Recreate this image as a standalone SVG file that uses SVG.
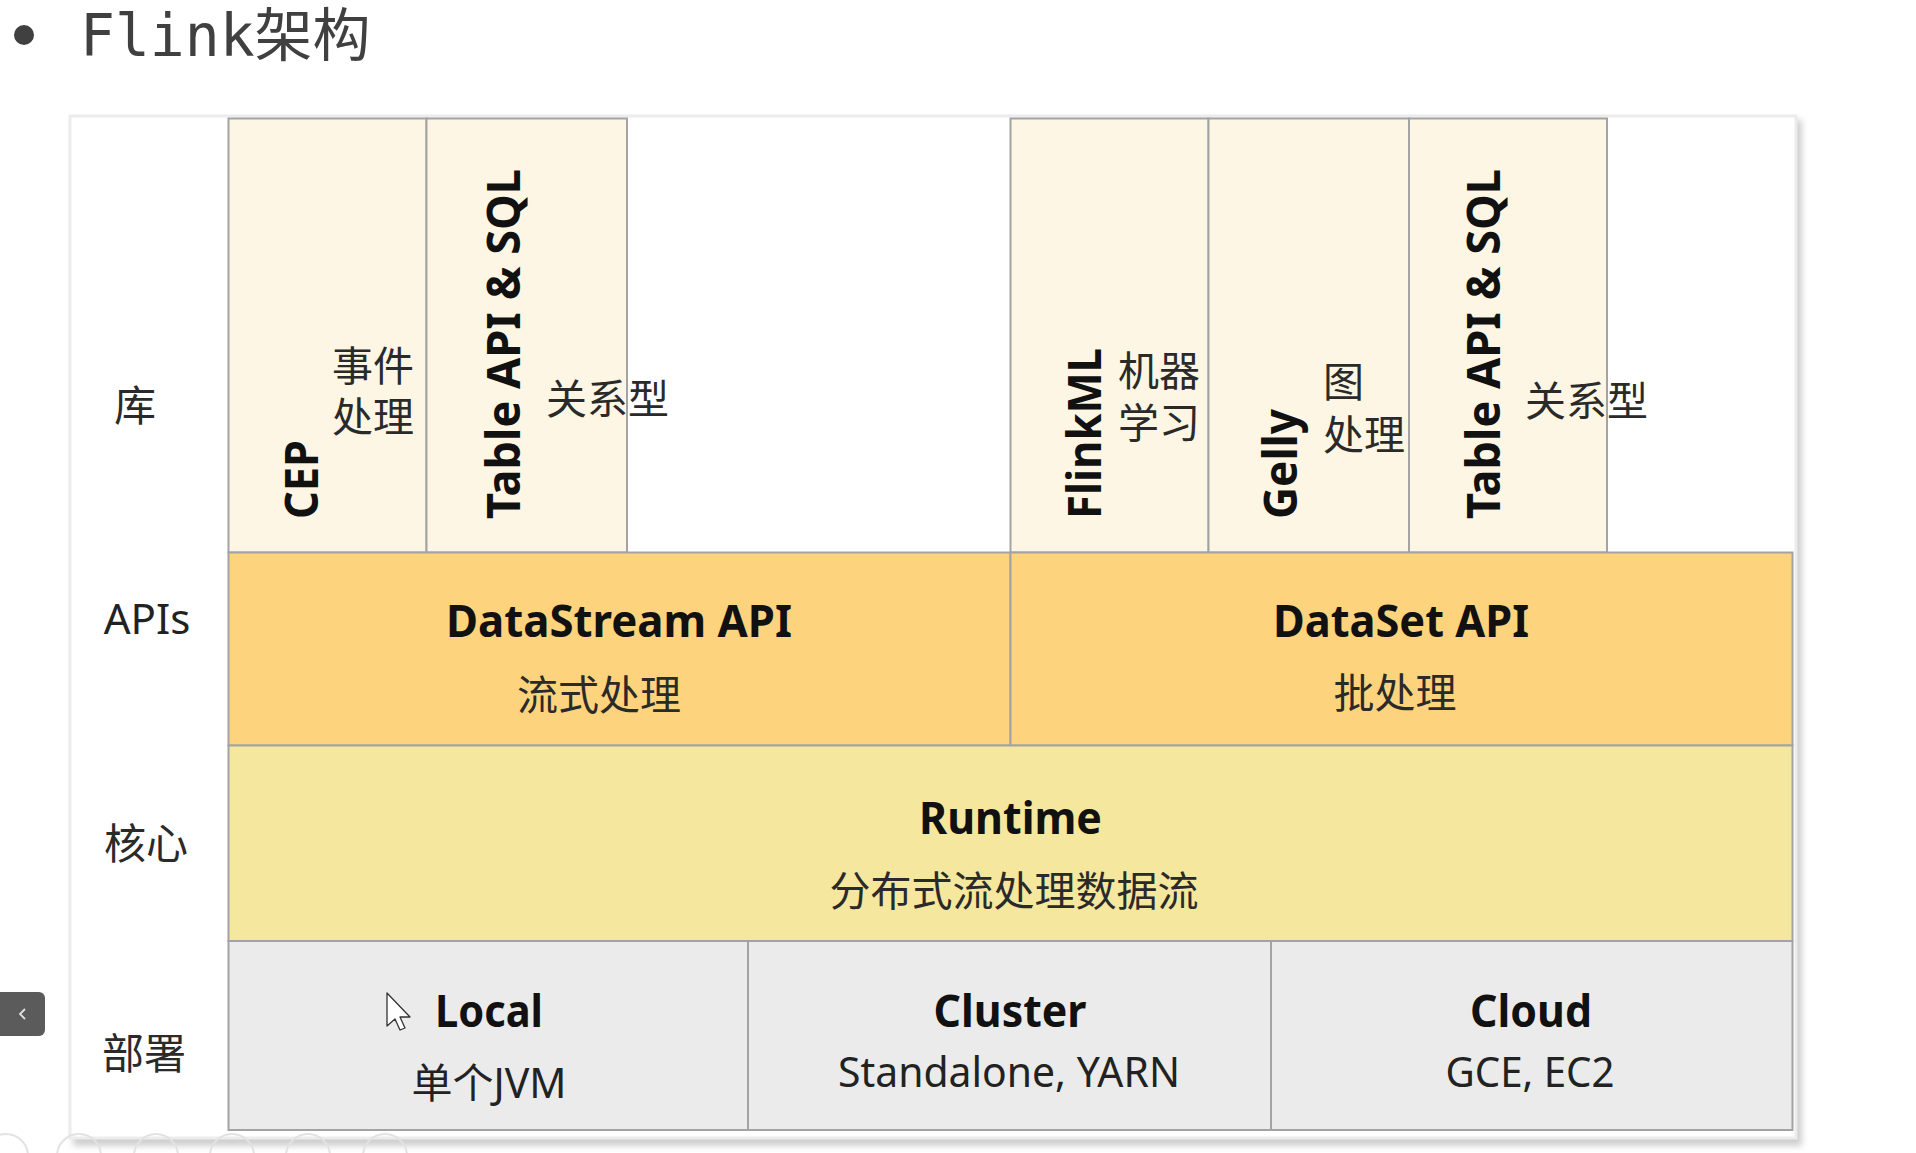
<svg xmlns="http://www.w3.org/2000/svg" width="1916" height="1153" viewBox="0 0 1916 1153">
  <defs>
    <filter id="shadow" x="-5%" y="-5%" width="110%" height="110%">
      <feGaussianBlur stdDeviation="3"/>
    </filter>
    <style>
      .lib { fill: #fdf6e4; stroke: #a3a3a3; stroke-width: 2; }
      .api { fill: #fdd37d; stroke: #a3a3a3; stroke-width: 2; }
      .core { fill: #f5e79e; stroke: #a3a3a3; stroke-width: 2; }
      .dep { fill: #ebebeb; stroke: #a3a3a3; stroke-width: 2; }
      .bold { font-family: "Noto Sans", "Liberation Sans", sans-serif; font-weight: bold; fill: #111; }
      .reg { font-family: "Noto Sans", "Noto Sans CJK SC", sans-serif; fill: #222; }
      .cjk { font-family: "Noto Sans CJK SC", "Noto Sans", sans-serif; fill: #2a2a2a; }
      .rot { font-size: 46px; }
      .h { font-size: 45px; text-anchor: middle; }
      .sub { font-size: 41px; text-anchor: middle; }
      .lbl { font-size: 41px; }
      .row { font-size: 42px; text-anchor: middle; }
    </style>
  </defs>

  <rect width="1916" height="1153" fill="#ffffff"/>

  <!-- title -->
  <g id="title">
    <circle cx="24" cy="35" r="10" fill="#404040"/>
    <text x="80" y="56" font-family="DejaVu Sans Mono, Noto Sans CJK SC, monospace" font-size="58" fill="#404040">Flink架构</text>
  </g>

  <!-- panel -->
  <g id="panel">
    <rect x="73" y="120" width="1729" height="1026" fill="#cfcfcf" filter="url(#shadow)"/>
    <rect x="70" y="116" width="1726" height="1022" fill="#ffffff" stroke="#ececec" stroke-width="3"/>
  </g>

  <!-- row labels -->
  <g id="row-labels">
    <text class="cjk row" x="135" y="421">库</text>
    <text class="reg row" x="147" y="634">APIs</text>
    <text class="cjk row" x="146" y="859">核心</text>
    <text class="cjk row" x="144" y="1069">部署</text>
  </g>

  <!-- library row -->
  <g id="cep">
    <rect class="lib" x="228.5" y="118.5" width="198" height="434"/>
    <text class="bold rot" transform="translate(318,519) rotate(-90)" textLength="79" lengthAdjust="spacingAndGlyphs">CEP</text>
    <text class="cjk lbl"><tspan x="332" y="381">事件</tspan><tspan x="332" dy="51">处理</tspan></text>
  </g>
  <g id="table-stream">
    <rect class="lib" x="426.5" y="118.5" width="200.5" height="434"/>
    <text class="bold rot" transform="translate(520,519) rotate(-90)" textLength="350" lengthAdjust="spacingAndGlyphs">Table API &amp; SQL</text>
    <text class="cjk lbl" x="546" y="414">关系型</text>
  </g>
  <g id="flinkml">
    <rect class="lib" x="1010.5" y="118.5" width="198" height="434"/>
    <text class="bold rot" transform="translate(1101,519) rotate(-90)" textLength="171" lengthAdjust="spacingAndGlyphs">FlinkML</text>
    <text class="cjk lbl"><tspan x="1118" y="386">机器</tspan><tspan x="1118" dy="52">学习</tspan></text>
  </g>
  <g id="gelly">
    <rect class="lib" x="1208.5" y="118.5" width="200.5" height="434"/>
    <text class="bold rot" transform="translate(1297,519) rotate(-90)" textLength="110" lengthAdjust="spacingAndGlyphs">Gelly</text>
    <text class="cjk lbl"><tspan x="1323" y="397">图</tspan><tspan x="1323" dy="53">处理</tspan></text>
  </g>
  <g id="table-batch">
    <rect class="lib" x="1409" y="118.5" width="198" height="434"/>
    <text class="bold rot" transform="translate(1500,519) rotate(-90)" textLength="350" lengthAdjust="spacingAndGlyphs">Table API &amp; SQL</text>
    <text class="cjk lbl" x="1525" y="416">关系型</text>
  </g>

  <!-- APIs row -->
  <g id="datastream">
    <rect class="api" x="228.5" y="552.5" width="782" height="193"/>
    <text class="bold h" x="619" y="637" textLength="346" lengthAdjust="spacingAndGlyphs">DataStream API</text>
    <text class="cjk sub" x="599" y="710">流式处理</text>
  </g>
  <g id="dataset">
    <rect class="api" x="1010.5" y="552.5" width="782" height="193"/>
    <text class="bold h" x="1401" y="637" textLength="256" lengthAdjust="spacingAndGlyphs">DataSet API</text>
    <text class="cjk sub" x="1395" y="708">批处理</text>
  </g>

  <!-- core row -->
  <g id="runtime">
    <rect class="core" x="228.5" y="745.5" width="1564" height="195.5"/>
    <text class="bold h" x="1010.5" y="834" textLength="183" lengthAdjust="spacingAndGlyphs">Runtime</text>
    <text class="cjk sub" x="1014" y="906">分布式流处理数据流</text>
  </g>

  <!-- deploy row -->
  <g id="local">
    <rect class="dep" x="228.5" y="941" width="519.5" height="189"/>
    <text class="bold h" x="489" y="1027" textLength="108" lengthAdjust="spacingAndGlyphs">Local</text>
    <text class="reg sub" x="489" y="1098">单个JVM</text>
  </g>
  <g id="cluster">
    <rect class="dep" x="748" y="941" width="523" height="189"/>
    <text class="bold h" x="1010" y="1027" textLength="153" lengthAdjust="spacingAndGlyphs">Cluster</text>
    <text class="reg sub" x="1009" y="1087" textLength="342" lengthAdjust="spacingAndGlyphs">Standalone, YARN</text>
  </g>
  <g id="cloud">
    <rect class="dep" x="1271" y="941" width="521.5" height="189"/>
    <text class="bold h" x="1531" y="1027" textLength="122" lengthAdjust="spacingAndGlyphs">Cloud</text>
    <text class="reg sub" x="1530" y="1087" textLength="169" lengthAdjust="spacingAndGlyphs">GCE, EC2</text>
  </g>

  <g id="connectors"></g>

  <!-- screenshot UI artefacts -->
  <g id="ui">
    <rect x="-6" y="992" width="51" height="44" rx="6" fill="#5b5b5b"/>
    <polyline points="25,1009 20,1014 25,1019" fill="none" stroke="#e0e0e0" stroke-width="1.8"/>
    <polygon points="387,993 387,1026 395,1019 400,1030 405,1028 400,1017 410,1017" fill="#ffffff" stroke="#333" stroke-width="1.3" stroke-linejoin="round"/>
    <g fill="none" stroke="#e2e2e2" stroke-width="2">
      <circle cx="6" cy="1156" r="22"/>
      <circle cx="79" cy="1156" r="22"/>
      <circle cx="156" cy="1156" r="22"/>
      <circle cx="232" cy="1156" r="22"/>
      <circle cx="308" cy="1156" r="22"/>
      <circle cx="385" cy="1156" r="22"/>
    </g>
  </g>
</svg>
